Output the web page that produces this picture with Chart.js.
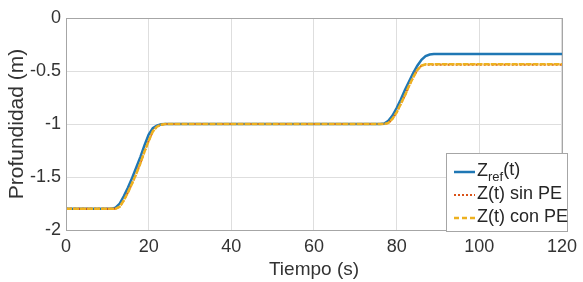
<!DOCTYPE html>
<html>
<head>
<meta charset="utf-8">
<script src="https://cdn.jsdelivr.net/npm/chart.js@4/dist/chart.umd.min.js"></script>
<style>
html,body{margin:0;padding:0;background:#fff;}
#wrap{width:583px;height:282px;position:relative;}
</style>
</head>
<body>
<div id="wrap"><canvas id="c" width="583" height="282"></canvas></div>
<script>
// Z_ref(t)
const tRef = [0, 11, 12, 13, 14, 15, 16, 17, 18, 19, 20, 21, 22, 23, 24, 76, 77, 78, 79, 80, 81, 82, 83, 84, 85, 86, 87, 88, 89, 120];
const zRef = [-1.80, -1.80, -1.79, -1.75, -1.68, -1.60, -1.51, -1.41, -1.31, -1.20, -1.10, -1.04, -1.015, -1.003, -1.00, -1.00, -0.995, -0.97, -0.92, -0.85, -0.77, -0.68, -0.60, -0.52, -0.45, -0.395, -0.36, -0.345, -0.34, -0.34];
// Z(t) sin PE
const tSin = [0, 12, 13, 14, 15, 16, 17, 18, 19, 20, 21, 22, 23, 24, 77, 78, 79, 80, 81, 82, 83, 84, 85, 86, 87, 120];
const zSin = [-1.80, -1.80, -1.78, -1.72, -1.645, -1.56, -1.47, -1.37, -1.26, -1.16, -1.07, -1.025, -1.007, -1.00, -1.00, -0.99, -0.95, -0.89, -0.81, -0.73, -0.64, -0.56, -0.49, -0.45, -0.44, -0.44];
// Z(t) con PE
const tCon = [0, 12, 13, 14, 15, 16, 17, 18, 19, 20, 21, 22, 23, 24, 77, 78, 79, 80, 81, 82, 83, 84, 85, 86, 87, 120];
const zCon = [-1.80, -1.80, -1.78, -1.72, -1.645, -1.56, -1.47, -1.37, -1.26, -1.16, -1.07, -1.025, -1.007, -1.00, -1.00, -0.99, -0.95, -0.89, -0.81, -0.73, -0.64, -0.56, -0.49, -0.45, -0.437, -0.437];

const xTicks = [0, 20, 40, 60, 80, 100, 120];
const yTicks = [-2, -1.5, -1, -0.5, 0];
const seriesNames = ['Z_ref(t)', 'Z(t) sin PE', 'Z(t) con PE'];

const toXY = (t, z) => t.map((x, i) => ({x: x, y: z[i]}));

const FONT = "'Liberation Sans', Arial, sans-serif";
const BLUE = '#1f77b4', RED = '#d95319', YEL = '#edb120';

const boxPlugin = {
  id: 'box',
  afterDatasetsDraw(chart) {
    const ctx = chart.ctx, a = chart.chartArea;
    ctx.save();
    ctx.strokeStyle = '#a6a6a6';
    ctx.lineWidth = 1;
    ctx.strokeRect(Math.round(a.left) + 0.5, Math.round(a.top) + 0.5, Math.round(a.right - a.left), Math.round(a.bottom - a.top));
    // legend
    const lx = 446, ly = 153, lw = 121, lh = 78;
    ctx.fillStyle = '#fff';
    ctx.fillRect(lx, ly, lw, lh);
    ctx.strokeStyle = '#a6a6a6';
    ctx.strokeRect(lx + 0.5, ly + 0.5, lw, lh);
    const rows = [171, 194, 217];
    const styles = [{c: BLUE, d: [], w: 2.5}, {c: RED, d: [2, 2], w: 2}, {c: YEL, d: [5, 3], w: 2.5}];
    rows.forEach((y, i) => {
      ctx.beginPath();
      ctx.setLineDash(styles[i].d);
      ctx.strokeStyle = styles[i].c;
      ctx.lineWidth = styles[i].w;
      ctx.moveTo(454, y + 1);
      ctx.lineTo(475, y + 1);
      ctx.stroke();
    });
    ctx.setLineDash([]);
    ctx.fillStyle = '#262626';
    ctx.textBaseline = 'middle';
    ctx.textAlign = 'left';
    ctx.font = '18px ' + FONT;
    let x = 477;
    ctx.fillText('Z', x, rows[0]);
    x += ctx.measureText('Z').width;
    ctx.font = '13px ' + FONT;
    ctx.fillText('ref', x, rows[0] + 6);
    x += ctx.measureText('ref').width;
    ctx.font = '18px ' + FONT;
    ctx.fillText('(t)', x, rows[0] - 1);
    ctx.fillText(seriesNames[1], 477, rows[1]);
    ctx.fillText(seriesNames[2], 477, rows[2]);
    ctx.restore();
  }
};

new Chart(document.getElementById('c'), {
  type: 'scatter',
  data: {
    datasets: [
      {label: seriesNames[0], data: toXY(tRef, zRef), showLine: true, borderColor: BLUE, borderWidth: 2.5, pointRadius: 0, tension: 0, order: 3},
      {label: seriesNames[1], data: toXY(tSin, zSin), showLine: true, borderColor: RED, borderWidth: 2, borderDash: [2, 2], pointRadius: 0, tension: 0, order: 2},
      {label: seriesNames[2], data: toXY(tCon, zCon), showLine: true, borderColor: YEL, borderWidth: 2.5, borderDash: [6, 1], pointRadius: 0, tension: 0, order: 1}
    ]
  },
  options: {
    responsive: false,
    animation: false,
    devicePixelRatio: 1,
    layout: {padding: {top: 18, right: 16, left: 0, bottom: 0}},
    plugins: {legend: {display: false}, tooltip: {enabled: false}},
    scales: {
      x: {
        type: 'linear', min: 0, max: 120,
        afterBuildTicks: s => { s.ticks = xTicks.map(v => ({value: v})); },
        afterFit: s => { s.height = 52; },
        grid: {color: '#dedede', drawTicks: false, lineWidth: 1},
        border: {display: false},
        ticks: {color: '#333', font: {family: FONT, size: 18}, padding: 6, maxRotation: 0, autoSkip: false, callback: v => String(v)},
        title: {display: true, text: 'Tiempo (s)', color: '#333', font: {family: FONT, size: 19}, padding: {top: 0, bottom: 1}}
      },
      y: {
        type: 'linear', min: -2, max: 0,
        afterBuildTicks: s => { s.ticks = yTicks.map(v => ({value: v})); },
        afterFit: s => { s.width = 66; },
        grid: {color: '#dedede', drawTicks: false, lineWidth: 1},
        border: {display: false},
        ticks: {color: '#333', font: {family: FONT, size: 18}, padding: 5, autoSkip: false, callback: v => String(v)},
        title: {display: true, text: 'Profundidad (m)', color: '#333', font: {family: FONT, size: 21}, padding: {top: 5, bottom: 4}}
      }
    }
  },
  plugins: [boxPlugin]
});
</script>
</body>
</html>
